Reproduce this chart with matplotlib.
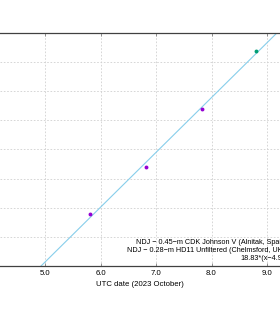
import matplotlib.pyplot as plt
import numpy as np

# observations (UTC date in 2023 October, arbitrary y units)
spain_x = [5.81, 6.82, 7.82]
spain_y = [18.0, 34.0, 53.9]
uk_x = [8.81]
uk_y = [73.9]
fit_slope = 18.83
fit_x0 = 4.93
x_ticks = [5.0, 6.0, 7.0, 8.0, 9.0]
y_grid = [10, 20, 30, 40, 50, 60, 70, 80]
legend_lines = [
    "NDJ \u2212 0.45\u2212m CDK Johnson V (Alnitak, Spain)",
    "NDJ \u2212 0.28\u2212m HD11 Unfiltered (Chelmsford, UK)",
    "18.83*(x\u22124.93)",
]

plt.rcParams["font.family"] = ["Liberation Sans", "DejaVu Sans"]

fig = plt.figure(figsize=(2.8, 3.2), dpi=100)
ax = fig.add_axes([0.0, 0.169, 1.0, 0.728])
xmin, xmax = 5 - 45 / 55.5, 5 + 235 / 55.5
ax.set_xlim(xmin, xmax)
ax.set_ylim(0, 80)

xx = np.array([xmin, xmax])
ax.plot(xx, fit_slope * (xx - fit_x0), color="#87ceeb", lw=0.8, zorder=2)
ax.plot(spain_x, spain_y, "o", ms=2.8, color="#9400d3", mec="none", zorder=3)
ax.plot(uk_x, uk_y, "o", ms=2.8, color="#009e73", mec="none", zorder=3)

ax.set_xticks(x_ticks)
ax.set_xticklabels([f"{v:.1f}" for v in x_ticks])
ax.set_yticks(y_grid)
ax.tick_params(axis="x", direction="in", top=True, length=2.5, width=0.6,
               color="#808080", labelsize=5.6, pad=3)
ax.tick_params(axis="y", left=False, labelleft=False)
ax.grid(True, color="#d0d0d0", ls=(0, (2, 2)), lw=0.6)
for side in ["left", "right"]:
    ax.spines[side].set_visible(False)
for side in ["top", "bottom"]:
    ax.spines[side].set_color("#404040")
    ax.spines[side].set_linewidth(0.9)
ax.set_xlabel("UTC date (2023 October)", fontsize=5.6, labelpad=3)

fig.text(0.486, 1 - 243 / 320, legend_lines[0], fontsize=5.2, va="center")
fig.text(0.454, 1 - 251 / 320, legend_lines[1], fontsize=5.2, va="center")
fig.text(0.857, 1 - 258 / 320, legend_lines[2], fontsize=5.2, va="center")

fig.savefig("out.png", dpi=100)
